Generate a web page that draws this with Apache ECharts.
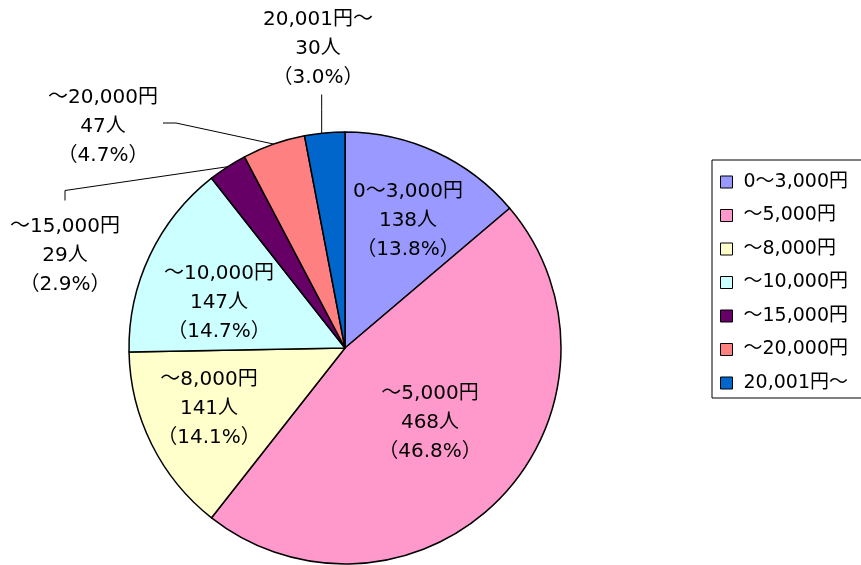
<!DOCTYPE html>
<html>
<head>
<meta charset="utf-8">
<script src="https://cdn.jsdelivr.net/npm/echarts@6/dist/echarts.min.js"></script>
<style>
html,body{margin:0;padding:0;background:#fff;}
#chart{width:861px;height:565px;}
</style>
</head>
<body>
<div id="chart"></div>
<script>
// ---- data ----
const categories = ['0～3,000円', '～5,000円', '～8,000円', '～10,000円', '～15,000円', '～20,000円', '20,001円～'];
const counts = [138, 468, 141, 147, 29, 47, 30];
const colors = ['#9999FF', '#FF99CC', '#FFFFCC', '#CCFFFF', '#660066', '#FF8080', '#0066CC'];

// ---- label placement (text layout only) ----
const labelCenters = [
  [408, 221], [430, 423], [209, 409], [219, 303],
  [65, 256], [103, 127], [318, 49]
];
const outsideLabel = [false, false, false, false, true, true, true];

const FONT = '"DejaVu Sans", "Noto Sans CJK JP", sans-serif';

const chart = echarts.init(document.getElementById('chart'), null, {renderer: 'canvas'});

const total = counts.reduce((a, b) => a + b, 0);

const seriesData = categories.map((name, i) => ({
  name: name,
  value: counts[i],
  itemStyle: {color: colors[i]},
  labelLine: {show: outsideLabel[i], lineStyle: {color: '#000', width: 1}}
}));

chart.setOption({
  animation: false,
  backgroundColor: '#fff',
  legend: {
    orient: 'vertical',
    left: 712,
    top: 160,
    padding: [12, 60, 5, 8],
    itemGap: 13.5,
    itemWidth: 12,
    itemHeight: 12,
    icon: 'rect',
    borderColor: '#000',
    borderWidth: 1,
    borderRadius: 0,
    selectedMode: false,
    itemStyle: {borderColor: '#000', borderWidth: 1},
    textStyle: {fontFamily: FONT, fontSize: 19, color: '#000', lineHeight: 20, padding: [0, 0, 0, 6]},
    data: categories
  },
  series: [{
    type: 'pie',
    center: [345, 348],
    radius: 216,
    startAngle: 90,
    clockwise: true,
    avoidLabelOverlap: false,
    silent: true,
    emphasis: {disabled: true},
    itemStyle: {borderColor: '#000', borderWidth: 1.5},
    label: {
      show: true,
      position: 'outside',
      fontFamily: FONT,
      fontSize: 20,
      lineHeight: 29,
      color: '#000',
      align: 'center',
      formatter: function (p) {
        return p.name + '\n' + p.value + '人\n（' + (p.value / total * 100).toFixed(1) + '%）';
      }
    },
    labelLine: {length: 10, length2: 10},
    labelLayout: function (params) {
      const i = params.dataIndex;
      const c = labelCenters[i];
      const res = {x: c[0], y: c[1], align: 'center', verticalAlign: 'middle'};
      if (outsideLabel[i] && params.labelLinePoints) {
        const p0 = params.labelLinePoints[0];
        const w = params.labelRect.width, h = params.labelRect.height;
        let anchor = p0, edge, elbow;
        if (i === 4) {            // line leaves from label top
          edge = [c[0], c[1] - h / 2 - 12];
          elbow = [c[0], edge[1] - 10];
        } else if (i === 5) {     // line leaves from label right side
          edge = [c[0] + w / 2 + 5, c[1] - 4];
          elbow = [edge[0] + 13, edge[1]];
        } else {                  // straight vertical line from label bottom
          anchor = [p0[0] - 3, p0[1] + 1];
          edge = [anchor[0], c[1] + h / 2 + 2];
          elbow = [anchor[0], edge[1] + 15];
        }
        res.labelLinePoints = [anchor, elbow, edge];
      }
      return res;
    },
    data: seriesData
  }]
});
</script>
</body>
</html>
